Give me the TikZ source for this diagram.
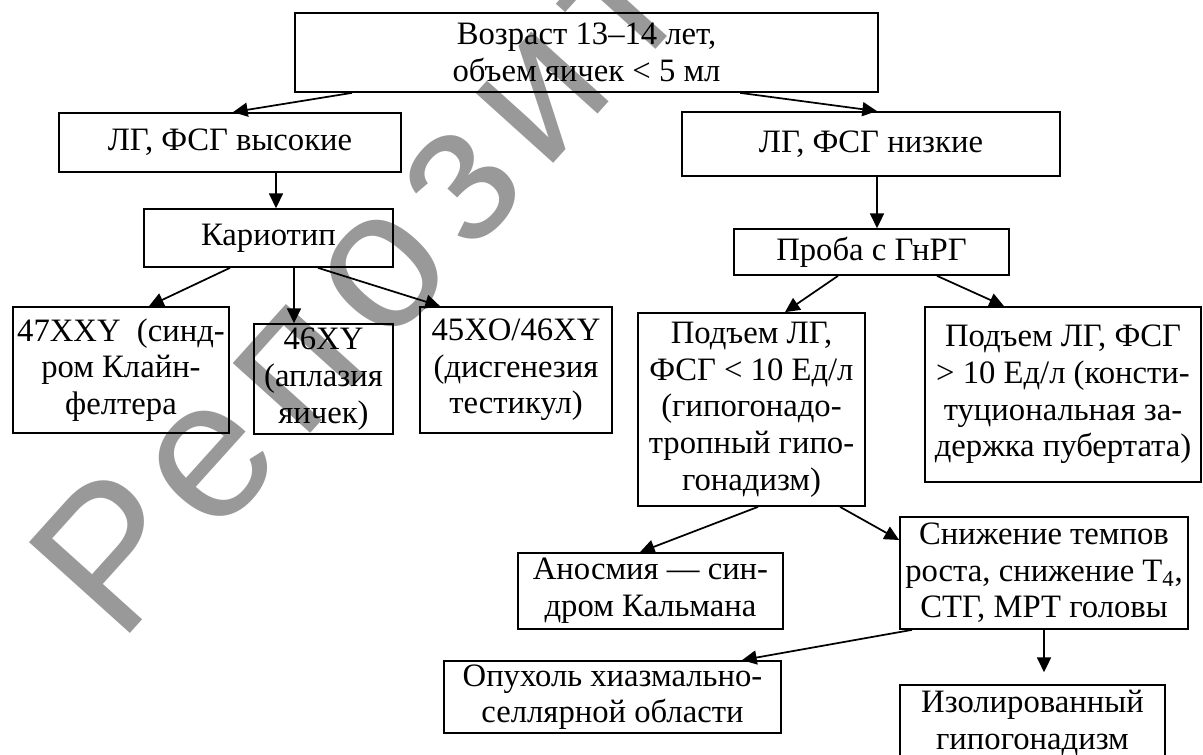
\documentclass[tikz,border=0pt]{standalone}
\usepackage{fontspec}
\setmainfont{Liberation Serif}
\newfontfamily\wmfont[LetterSpace=10]{Liberation Sans}
\usetikzlibrary{arrows.meta}
\begin{document}
\begin{tikzpicture}[x=0.75pt,y=-0.75pt,
  box/.style={draw, line width=1.3pt, inner sep=0pt, align=center,
    font=\fontsize{24.5}{27.5}\selectfont},
  arr/.style={-{Triangle[length=11pt,width=10.5pt]}, line width=1.3pt},
  wm/.style={text=black!40, inner sep=0pt, font=\wmfont\fontsize{148}{148}\selectfont}
]
\useasboundingbox (0,0) rectangle (1203,755);
\fill[white] (0,0) rectangle (1203,755);
% watermark
\node[wm, rotate=48, anchor=base west] (wmark) at (119,646) {Репозиторий};

% boxes
\node[box, minimum width=583*0.75pt, minimum height=79*0.75pt] (top) at (586.5,52.5)
  {Возраст 13–14 лет,\\объем яичек < 5 мл};
\node[box, minimum width=342*0.75pt, minimum height=59*0.75pt] (high) at (230,142.5)
  {ЛГ, ФСГ высокие};
\node[box, minimum width=378*0.75pt, minimum height=64*0.75pt] (low) at (871,144)
  {ЛГ, ФСГ низкие};
\node[box, minimum width=249*0.75pt, minimum height=58*0.75pt] (karyo) at (268.5,238)
  {Кариотип};
\node[box, minimum width=275*0.75pt, minimum height=46*0.75pt] (proba) at (871.5,252)
  {Проба с ГнРГ};
\node[box, minimum width=216*0.75pt, minimum height=126*0.75pt] (xxy) at (121,370)
  {47XXY\ \ (синд-\\ром Клайн-\\фелтера};
\node[box, minimum width=139*0.75pt, minimum height=110*0.75pt] (xy) at (323.5,379)
  {46XY\\(аплазия\\яичек)};
\node[box, minimum width=192*0.75pt, minimum height=126*0.75pt] (xo) at (516,370)
  {45XO/46XY\\(дисгенезия\\тестикул)};
\node[box, minimum width=227*0.75pt, minimum height=193*0.75pt] (pl) at (751.5,409.5)
  {Подъем ЛГ,\\ФСГ < 10 Ед/л\\(гипогонадо-\\тропный гипо-\\гонадизм)};
\node[box, minimum width=276*0.75pt, minimum height=175*0.75pt] (pg) at (1063,394.5)
  {Подъем ЛГ, ФСГ\\> 10 Ед/л (консти-\\туциональная за-\\держка пубертата)};
\node[box, minimum width=265*0.75pt, minimum height=76*0.75pt] (anos) at (650.5,591)
  {Аносмия — син-\\дром Кальмана};
\node[box, minimum width=288*0.75pt, minimum height=112*0.75pt] (sniz) at (1044,573)
  {Снижение темпов\\роста, снижение Т\textsubscript{4},\\СТГ, МРТ головы};
\node[box, minimum width=337*0.75pt, minimum height=72*0.75pt] (opux) at (612.5,697)
  {Опухоль хиазмально-\\селлярной области};
\node[box, minimum width=265*0.75pt, minimum height=76*0.75pt] (izol) at (1032.5,723)
  {Изолированный\\гипогонадизм};

% connectors
\draw[arr] (top.south -| 352,0) -- (high.north -| 233,0);
\draw[arr] (top.south -| 740,0) -- (low.north -| 877,0);
\draw[arr] (high.south -| 276,0) -- (karyo.north -| 276,0);
\draw[arr] (low.south -| 877,0) -- (proba.north -| 877,0);
\draw[arr] (karyo.south -| 230,0) -- (xxy.north -| 149,0);
\draw[arr] (karyo.south -| 294,0) -- (xy.north -| 294,0);
\draw[arr] (karyo.south -| 318,0) -- (xo.north -| 440,0);
\draw[arr] (proba.south -| 838,0) -- (pl.north -| 785,0);
\draw[arr] (proba.south -| 937,0) -- (pg.north -| 1004,0);
\draw[arr] (pl.south -| 758,0) -- (anos.north -| 640,0);
\draw[arr] (pl.south -| 840,0) -- (sniz.west |- 0,540);
\draw[arr] (sniz.south -| 912,0) -- (opux.north -| 742,0);
\draw[arr, shorten >=9pt] (sniz.south -| 1044,0) -- (izol.north -| 1044,0);
\end{tikzpicture}
\end{document}
